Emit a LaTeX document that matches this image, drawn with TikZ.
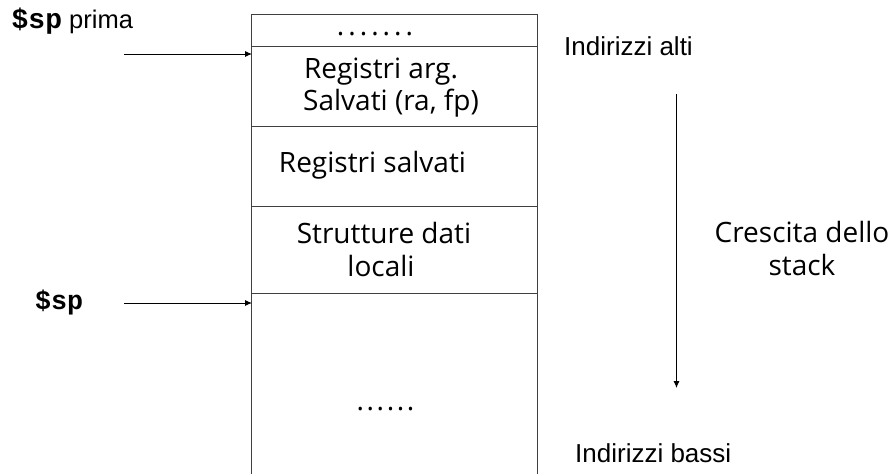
\documentclass[tikz,border=0pt]{standalone}
\usepackage{fontspec}
\setmainfont{Liberation Sans}
\newfontfamily\comic{Open Sans}
\newfontfamily\cour{Liberation Mono}
\usetikzlibrary{arrows.meta}
\tikzset{
  boxline/.style={draw=black!75, line width=0.9pt},
  ptr/.style={draw=black, line width=0.9pt, -{Latex[length=7pt,width=6pt]}},
  cell/.style={font=\comic\fontsize{28}{32}\selectfont, inner sep=0pt, anchor=base},
  lab/.style={font=\fontsize{26}{30}\selectfont, inner sep=0pt, anchor=base west},
  reg/.style={font=\cour\bfseries\fontsize{26.7}{30}\selectfont, inner sep=0pt, anchor=base west}
}
\begin{document}
\begin{tikzpicture}[x=1pt,y=-1pt]
\useasboundingbox (0,0) rectangle (894,474);
% stack frame
\coordinate (tl) at (251.5,14.5);
\coordinate (tr) at (537,14.5);
\coordinate (bl) at (251.5,474);
\coordinate (br) at (537,474);
\draw[boxline] (bl) -- (tl) -- (tr) -- (br);
\draw[boxline] (251.5,46) -- (537,46);
\draw[boxline] (251.5,126.5) -- (537,126.5);
\draw[boxline] (251.5,206) -- (537,206);
\draw[boxline] (251.5,293.5) -- (537,293.5);
% cell texts
\node[cell] (d1) at (375,35) {.\kern4pt.\kern4pt.\kern4pt.\kern4pt.\kern4pt.\kern4pt.};
\node[cell] (r1) at (381,78) {Registri arg.};
\node[cell] (r2) at (391,110) {Salvati (ra, fp)};
\node[cell] (r3) at (372.5,172) {Registri salvati};
\node[cell] (r4) at (384,243) {Strutture dati};
\node[cell] (r5) at (381,276) {locali};
\node[cell] (d2) at (385.5,410.5) {.\kern2.6pt.\kern2.6pt.\kern2.6pt.\kern2.6pt.\kern2.6pt.};
% pointers
\node[inner sep=0pt, anchor=base west] (spp) at (11.5,28) {{\cour\bfseries\fontsize{28}{30}\selectfont \$sp}{\fontsize{25.5}{28}\selectfont\ prima}};
\node[reg] (sp) at (35,309) {\$sp};
\coordinate (a1s) at (124,54);
\coordinate (a1e) at (252,54);
\coordinate (a2s) at (124,303);
\coordinate (a2e) at (252,303);
\draw[ptr] (a1s) -- (a1e);
\draw[ptr] (a2s) -- (a2e);
% right side
\node[lab] (alti) at (564,55) {Indirizzi alti};
\node[lab] (bassi) at (575,462) {Indirizzi bassi};
\node[cell] (cr1) at (802,242) {Crescita dello};
\node[cell] (cr2) at (802,275) {stack};
\coordinate (gs) at (676.5,94);
\coordinate (ge) at (676.5,388);
\draw[ptr] (gs) -- (ge);
\end{tikzpicture}
\end{document}
